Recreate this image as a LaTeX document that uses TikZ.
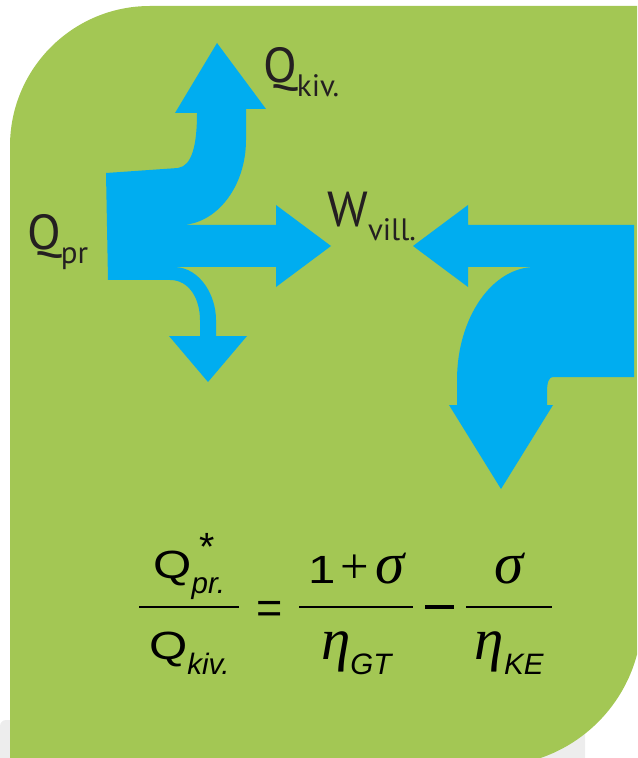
\documentclass[tikz,border=0pt]{standalone}
\usepackage{amsmath}
\usepackage{graphicx}
\usepackage{fontspec}
\setmainfont{PT Sans}
\newfontfamily\eqfont{Liberation Sans}
\newfontfamily\gkfont{Liberation Serif}
\usetikzlibrary{positioning}
\definecolor{leafgreen}{rgb}{0.64,0.78,0.33}
\definecolor{flowblue}{rgb}{0.0,0.68,0.94}
\definecolor{papergray}{rgb}{0.93,0.93,0.93}
\definecolor{inkdark}{rgb}{0.14,0.12,0.13}
\tikzset{
  panel/.style={
    fill=leafgreen
  },
  sheet/.style={
    fill=papergray,
    rounded corners=1.5mm
  },
  flow/.style={
    fill=flowblue
  },
  flowname/.style={
    anchor=base west,
    inner sep=0pt,
    text=inkdark
  },
  formula/.style={
    anchor=base west,
    inner sep=0pt,
    text=black,
    font=\fontsize{28}{32}\selectfont
  }
}
\newcommand{\fname}[2]{{\fontsize{35}{35}\selectfont #1}{\fontsize{22}{22}\selectfont\raisebox{-3.5mm}{#2}}}
\newcommand{\eqmain}[1]{\scalebox{1.25}[1]{\eqfont\fontsize{28}{28}\selectfont #1}}
\newcommand{\eqsub}[1]{\raisebox{-3.75mm}{\eqfont\itshape\fontsize{21}{21}\selectfont #1}}
\newcommand{\eqgk}[1]{{\gkfont\itshape\fontsize{42}{42}\selectfont #1}}
\newcommand{\numstrut}{\rule[-3.9mm]{0pt}{3.9mm}}
\newcommand{\denstrut}{\rule{0pt}{11.2mm}}
\newcommand{\eqfrac}[3]{{\genfrac{}{}{1.6pt}{0}{\makebox[#1]{#2}}{\makebox[#1]{#3}}}}

\begin{document}
\begin{tikzpicture}[x=0.25mm,y=-0.25mm]
\useasboundingbox (0,0) rectangle (637,758);
\clip (0,0) rectangle (637,758);
% background sheet and green panel
\fill[sheet] (0,720) rectangle (585,790);
\fill[panel] (10,790) -- (10,146) arc[start angle=180,end angle=270,radius=140]
  -- (660,6) -- (642,6) -- (642,616) arc[start angle=0,end angle=90,radius=150]
  -- (10,766) -- cycle;
% split flow on the left
\fill[flow] (106,173) -- (178,168) .. controls (192,166) and (197,145) .. (197,113)
  -- (175,113) -- (217,43) -- (266,109) -- (246,109) -- (246,140)
  .. controls (246,187) and (216,225) .. (180,225)
  -- (276,225) -- (276,205) -- (331,246) -- (276,287) -- (276,267) -- (175,267)
  .. controls (200,268) and (216,295) .. (216,320) -- (216,336)
  -- (247,336) -- (208,382) -- (169,336) -- (200,336) -- (200,320)
  .. controls (200,300) and (190,280) .. (170,280) -- (108,280) -- cycle;
% returning flow on the right
\fill[flow] (413,246) -- (468,205) -- (468,225) -- (634,225) -- (634,377) -- (553,377)
  .. controls (549,377) and (547,382) .. (547,392) -- (547,405)
  -- (553,405) -- (501,489) -- (449,405) -- (457,405) -- (457,380)
  .. controls (457,318) and (492,267) .. (535,267)
  -- (468,267) -- (468,287) -- cycle;
% labels
\node[flowname] (qpr) at (27,250) {\fname{Q}{pr}};
\node[flowname] (qkiv) at (263,83) {\fname{Q}{kiv.}};
\node[flowname] (wvill) at (327,227) {\fname{W}{vill.}};
\node[formula] (ratio) at (137.3,616) {$\displaystyle
  \eqfrac{25mm}{\eqmain{Q}\makebox[0pt][l]{\hspace{2mm}\raisebox{4.5mm}{\eqfont\fontsize{28}{28}\selectfont *}}\eqsub{pr.}}
    {\eqmain{Q}\eqsub{kiv.}\denstrut}
  \makebox[14.15mm]{\raisebox{-1.8mm}{\eqfont\fontsize{32}{32}\selectfont =}}
  \eqfrac{28.5mm}{\eqmain{1}\hspace{1.2mm}{\gkfont\fontsize{36}{36}\selectfont +}\hspace{1.5mm}\eqgk{σ}\numstrut}
    {\eqgk{η}\eqsub{GT}\denstrut}
  \makebox[12.4mm]{\rule[1.75mm]{7.25mm}{0.9mm}}
  \eqfrac{21.5mm}{\eqgk{σ}\numstrut}{\eqgk{η}\eqsub{KE}\denstrut}$};
\end{tikzpicture}
\end{document}
